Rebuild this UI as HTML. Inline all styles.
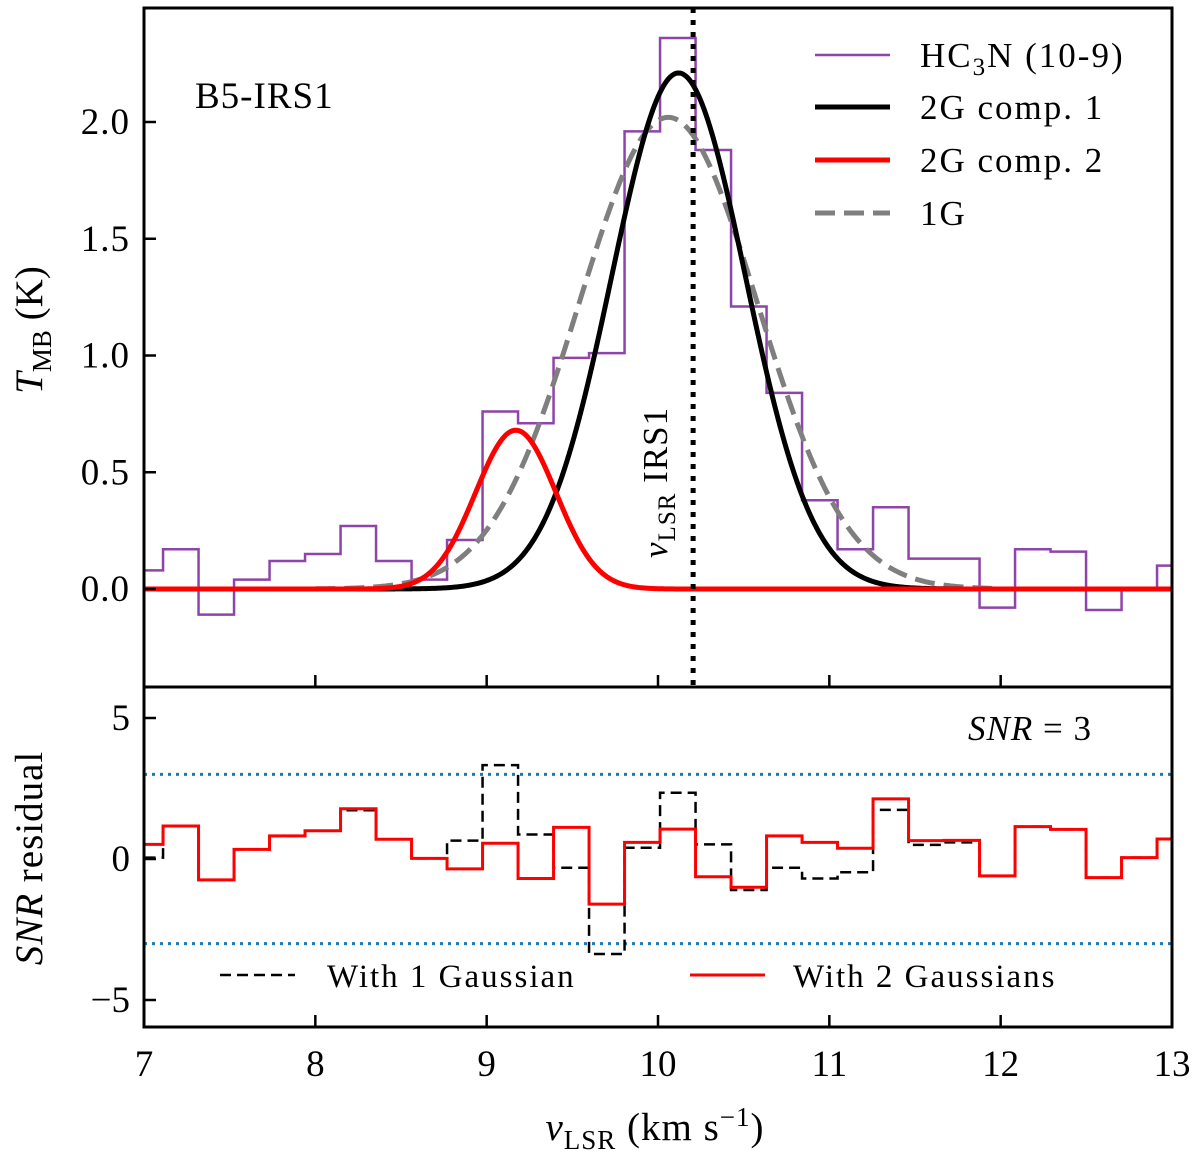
<!DOCTYPE html>
<html><head><meta charset="utf-8">
<style>
body{margin:0;background:#fff;}
svg{display:block;font-family:"Liberation Serif",serif;}
</style></head>
<body>
<svg id="chart" width="1200" height="1159" viewBox="0 0 1200 1159" xmlns="http://www.w3.org/2000/svg"></svg>
<script>
// ---- data ----
const chanStart = 6.904;
const chanWidth = 0.2072;
const spectrumT = [0.08,0.17,-0.11,0.04,0.12,0.15,0.27,0.12,0.04,0.21,0.76,0.71,0.99,1.01,1.96,2.36,1.88,1.21,0.84,0.38,0.17,0.35,0.13,0.13,-0.08,0.17,0.16,-0.09,0.0,0.1];
const resid2G = [0.52,1.17,-0.74,0.34,0.82,1.0,1.78,0.7,0.02,-0.35,0.56,-0.69,1.12,-1.6,0.59,1.06,-0.63,-1.0,0.82,0.59,0.38,2.13,0.65,0.66,-0.6,1.15,1.05,-0.66,0.05,0.71];
const resid1G = [0.05,1.17,-0.74,0.34,0.82,1.0,1.73,0.7,0.02,0.65,3.33,0.87,-0.31,-3.37,0.4,2.35,0.52,-1.1,-0.31,-0.69,-0.47,1.74,0.5,0.59,-0.6,1.15,1.05,-0.66,0.05,0.71];
const comp1 = [2.21,10.12,0.39];
const comp2 = [0.68,9.17,0.235];
const oneG = [2.02,10.06,0.52];
const vIRS1 = 10.205;
const xTicks = [7,8,9,10,11,12,13];
const yTicksTop = [0.0,0.5,1.0,1.5,2.0];
const yTickLabelsTop = ["0.0","0.5","1.0","1.5","2.0"];
const yTicksBot = [-5,0,5];
const yTickLabelsBot = ["\u22125","0","5"];
const snrLevel = 3;

// ---- axes ----
const L=144,R=1172,T1=8,B1=687,T2=687,B2=1027;
const X=v=>L+(v-7)*(R-L)/6;
const Y1=t=>589-t*233.5;
const Y2=s=>859-s*28.2;
const svg=document.getElementById('chart');
const NS='http://www.w3.org/2000/svg';
function mk(tag,attrs,parent){const e=document.createElementNS(NS,tag);for(const k in attrs)e.setAttribute(k,attrs[k]);(parent||svg).appendChild(e);return e;}
function txt(s,attrs,parent){const e=mk('text',attrs,parent);e.textContent=s;return e;}

const defs=mk('defs',{});
const c1=mk('clipPath',{id:'clipTop'},defs);mk('rect',{x:L,y:T1,width:R-L,height:B1-T1},c1);
const c2=mk('clipPath',{id:'clipBot'},defs);mk('rect',{x:L,y:T2,width:R-L,height:B2-T2},c2);

function stepPath(vals,Y){let d='';vals.forEach((v,i)=>{const x0=X(chanStart+i*chanWidth),x1=X(chanStart+(i+1)*chanWidth);d+=(i?'L':'M')+x0+','+Y(v)+'L'+x1+','+Y(v);});return d;}
function gaussPath(p,v0,v1){let d='';for(let v=v0;v<=v1+1e-9;v+=0.01){const t=p[0]*Math.exp(-0.5*Math.pow((v-p[1])/p[2],2));d+=(d?'L':'M')+X(v).toFixed(2)+','+Y1(t).toFixed(2);}return d;}

// ---- top panel ----
const gTop=mk('g',{'clip-path':'url(#clipTop)'});


let e;
e=mk('path',{d:stepPath(spectrumT,Y1),fill:'none',stroke:'#8e44a8','stroke-width':2.5},gTop);

e=mk('path',{d:gaussPath(oneG,8.0,11.95),fill:'none',stroke:'#7f7f7f','stroke-width':5,'stroke-dasharray':'20,9'},gTop);

e=mk('path',{d:gaussPath(comp1,8.0,12.0),fill:'none',stroke:'#000','stroke-width':5},gTop);

e=mk('path',{d:gaussPath(comp2,7.0,13.0),fill:'none',stroke:'#ff0000','stroke-width':5},gTop);

e=mk('line',{x1:X(vIRS1),x2:X(vIRS1),y1:T1,y2:B1,stroke:'#000','stroke-width':5,'stroke-dasharray':'5,7'});

e=mk('text',{x:0,y:0,'font-size':35,'letter-spacing':1,transform:`translate(${X(vIRS1)-26},558) rotate(-90)`});

e.innerHTML='<tspan font-style="italic">v</tspan><tspan font-size="25" dy="8">LSR</tspan><tspan dy="-8"> IRS1</tspan>';
e=txt('B5-IRS1',{x:195,y:108,'font-size':37,'letter-spacing':1});


const legTop=mk('g',{});

const legItems=[[55,'#8e44a8',2.5,null,'HC<tspan font-size="25" dy="8">3</tspan><tspan dy="-8">N (10-9)</tspan>'],[107,'#000',5,null,'2G comp. 1'],[160,'#ff0000',5,null,'2G comp. 2'],[213,'#7f7f7f',5,'20,9','1G']];
legItems.forEach(it=>{const g=mk('g',{},legTop);

const a={x1:815,x2:890,y1:it[0],y2:it[0],stroke:it[1],'stroke-width':it[2]};if(it[3])a['stroke-dasharray']=it[3];mk('line',a,g);
const t=mk('text',{x:920,y:it[0]+12,'font-size':35,'letter-spacing':2},g);t.innerHTML=it[4];});

// ---- bottom panel ----
const gBot=mk('g',{'clip-path':'url(#clipBot)'});

[snrLevel,-snrLevel].forEach(s=>{const l=mk('line',{x1:L,x2:R,y1:Y2(s),y2:Y2(s),stroke:'#1f77b4','stroke-width':3,'stroke-dasharray':'3,5'},gBot);
});
e=mk('path',{d:stepPath(resid1G,Y2),fill:'none',stroke:'#000','stroke-width':2.5,'stroke-dasharray':'11,6'},gBot);

e=mk('path',{d:stepPath(resid2G,Y2),fill:'none',stroke:'#ff0000','stroke-width':3},gBot);

e=mk('text',{x:968,y:740,'font-size':35,'letter-spacing':1});

e.innerHTML='<tspan font-style="italic">SNR</tspan> = 3';
const legBot=mk('g',{});

mk('line',{x1:220,x2:295,y1:975,y2:975,stroke:'#000','stroke-width':2.5,'stroke-dasharray':'11,6'},legBot);
txt('With 1 Gaussian',{x:327,y:987,'font-size':33,'letter-spacing':2},legBot);
mk('line',{x1:690,x2:765,y1:975,y2:975,stroke:'#ff0000','stroke-width':3},legBot);
txt('With 2 Gaussians',{x:793,y:987,'font-size':33,'letter-spacing':2},legBot);

// ---- frames & ticks ----
mk('rect',{x:L,y:T1,width:R-L,height:B2-T1,fill:'none',stroke:'#000','stroke-width':3});
mk('line',{x1:L,x2:R,y1:T2,y2:T2,stroke:'#000','stroke-width':3});
xTicks.forEach(v=>{
  mk('line',{x1:X(v),x2:X(v),y1:B1,y2:B1-12,stroke:'#000','stroke-width':2.5});
  mk('line',{x1:X(v),x2:X(v),y1:B2,y2:B2-12,stroke:'#000','stroke-width':2.5});
  const t=txt(String(v),{x:X(v),y:1076,'font-size':37,'text-anchor':'middle'});
  
});
yTicksTop.forEach((v,i)=>{
  mk('line',{x1:L,x2:L+12,y1:Y1(v),y2:Y1(v),stroke:'#000','stroke-width':2.5});
  const t=txt(yTickLabelsTop[i],{x:L-14,y:Y1(v)+12,'font-size':37,'text-anchor':'end','letter-spacing':1});
  
});
yTicksBot.forEach((v,i)=>{
  mk('line',{x1:L,x2:L+12,y1:Y2(v),y2:Y2(v),stroke:'#000','stroke-width':2.5});
  const t=txt(yTickLabelsBot[i],{x:L-14,y:Y2(v)+12,'font-size':37,'text-anchor':'end'});
  
});

e=mk('text',{x:0,y:0,'font-size':39,'text-anchor':'middle',transform:'translate(42,330) rotate(-90)'});

e.innerHTML='<tspan font-style="italic">T</tspan><tspan font-size="27" dy="9">MB</tspan><tspan dy="-9"> (K)</tspan>';
e=mk('text',{x:0,y:0,'font-size':39,'text-anchor':'middle','letter-spacing':1,transform:'translate(42,858) rotate(-90)'});

e.innerHTML='<tspan font-style="italic">SNR</tspan> residual';
e=mk('text',{x:655,y:1140,'font-size':39,'text-anchor':'middle','letter-spacing':1});

e.innerHTML='<tspan font-style="italic">v</tspan><tspan font-size="27" dy="9">LSR</tspan><tspan dy="-9"> (km s</tspan><tspan font-size="27" dy="-14">\u22121</tspan><tspan dy="14">)</tspan>';
</script>
</body></html>
